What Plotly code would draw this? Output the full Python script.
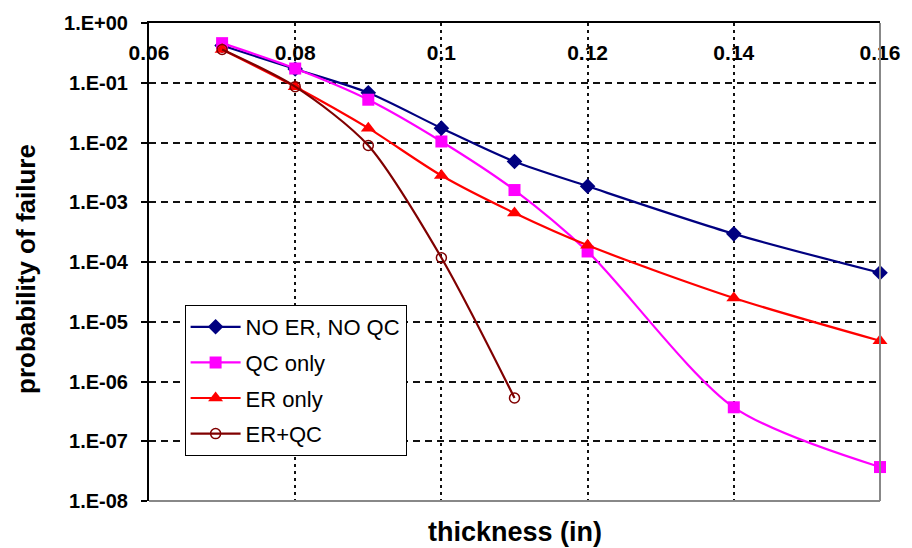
import plotly.graph_objects as go

# Wall thickness (in) and probability of failure for each inspection scenario
thickness = [0.07, 0.08, 0.09, 0.10, 0.11, 0.12, 0.14, 0.16]
thickness_erqc = [0.07, 0.08, 0.09, 0.10, 0.11]

pf_no_er_no_qc = [0.42, 0.17, 0.068, 0.0174, 0.0048, 0.00185, 0.000296, 0.000066]
pf_qc_only = [0.46, 0.173, 0.052, 0.0104, 0.0016, 0.00015, 3.7e-7, 3.7e-8]
pf_er_only = [0.36, 0.086, 0.0174, 0.0028, 0.00066, 0.00019, 2.5e-5, 4.8e-6]
pf_er_qc = [0.36, 0.086, 0.0089, 0.000118, 5.3e-7]

x_tickvals = [0.06, 0.08, 0.10, 0.12, 0.14, 0.16]
x_ticktext = ["0.06", "0.08", "0.1", "0.12", "0.14", "0.16"]
y_tickvals = [1e0, 1e-1, 1e-2, 1e-3, 1e-4, 1e-5, 1e-6, 1e-7, 1e-8]
y_ticktext = ["1.E+00", "1.E-01", "1.E-02", "1.E-03", "1.E-04",
              "1.E-05", "1.E-06", "1.E-07", "1.E-08"]

FONT = "Liberation Sans, Arial, sans-serif"

series = [
    ("NO ER, NO QC", thickness, pf_no_er_no_qc, "#000080",
     dict(symbol="diamond", size=12, color="#000080")),
    ("QC only", thickness, pf_qc_only, "#FF00FF",
     dict(symbol="square", size=12, color="#FF00FF")),
    ("ER only", thickness, pf_er_only, "#FF0000",
     dict(symbol="triangle-up", size=13, color="#FF0000")),
    ("ER+QC", thickness_erqc, pf_er_qc, "#800000",
     dict(symbol="circle-open", size=10, color="#800000", line=dict(width=1.5))),
]

fig = go.Figure()
for i, (name, xs, ys, col, mk) in enumerate(series):
    fig.add_trace(go.Scatter(
        x=xs, y=ys, name=name, mode="lines+markers",
        line=dict(color=col, width=2.2, shape="spline", smoothing=0.8),
        marker=mk, legendgroup=f"g{i}", cliponaxis=False,
    ))

fig.update_layout(
    width=912, height=548,
    margin=dict(l=149, r=24, t=21, b=47),
    paper_bgcolor="white", plot_bgcolor="white",
    font=dict(family=FONT, color="black"),
    showlegend=True,
    legend=dict(
        x=0.0487, y=0.41, xanchor="left", yanchor="top",
        bgcolor="white", bordercolor="black", borderwidth=1,
        font=dict(size=22, family=FONT, color="black"),
        tracegroupgap=4, traceorder="grouped", itemwidth=50,
    ),
    xaxis=dict(
        range=[0.06, 0.16], side="top",
        tickmode="array", tickvals=x_tickvals, ticktext=x_ticktext,
        ticklabelposition="inside", ticklabeloverflow="allow",
        ticklabelstandoff=24,
        tickfont=dict(size=21, family=FONT, weight="bold", color="black"),
        showline=True, linecolor="black", linewidth=2,
        showgrid=True, gridcolor="#111", gridwidth=1.8, griddash="3px,4px",
        zeroline=False, ticks="",
    ),
    yaxis=dict(
        type="log", range=[-8, 0],
        tickmode="array", tickvals=y_tickvals, ticktext=y_ticktext,
        tickfont=dict(size=20, family=FONT, weight="bold", color="black"),
        ticks="outside", ticklen=6, tickcolor="black", tickwidth=1.5,
        ticklabelstandoff=9,
        showline=True, linecolor="black", linewidth=2,
        showgrid=True, gridcolor="#111", gridwidth=1.8, griddash="7px,5px",
        zeroline=False,
    ),
    shapes=[
        dict(type="line", xref="paper", yref="paper", x0=0, x1=1, y0=0, y1=0,
             line=dict(color="#888", width=2)),
        dict(type="line", xref="paper", yref="paper", x0=1, x1=1, y0=0, y1=1,
             line=dict(color="#888", width=2)),
    ],
    annotations=[
        dict(text="<b>thickness (in)</b>", xref="paper", yref="paper",
             x=0.5, y=0, yshift=-31, xanchor="center", yanchor="middle",
             showarrow=False, font=dict(size=27, family=FONT, color="black")),
        dict(text="<b>probability of failure</b>", xref="paper", yref="paper",
             x=0, xshift=-123, y=0.5, yshift=-7, textangle=-90,
             xanchor="center", yanchor="middle",
             showarrow=False, font=dict(size=26, family=FONT, color="black")),
    ],
)

fig.write_html("out.html")
